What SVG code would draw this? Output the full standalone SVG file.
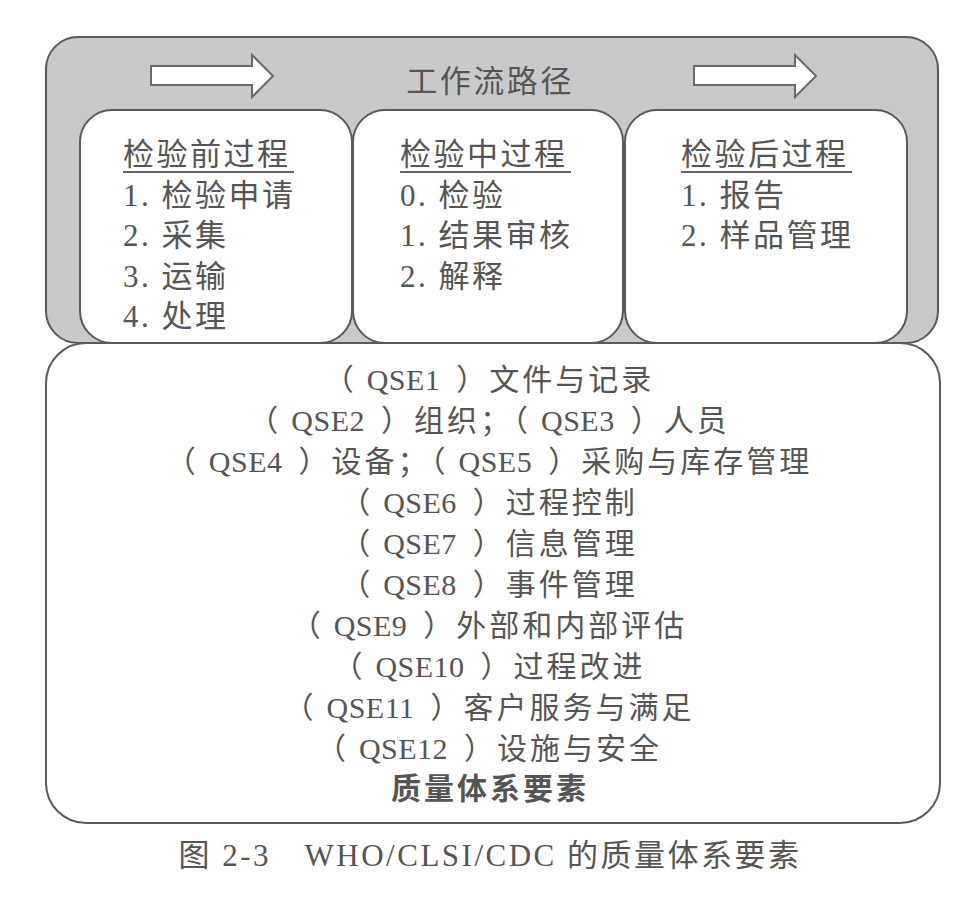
<svg xmlns="http://www.w3.org/2000/svg" width="980" height="901" viewBox="0 0 980 901">
<defs>
<style>
.t{font-family:"Liberation Serif","Noto Sans CJK SC",serif;fill:#555;font-size:31px;letter-spacing:2.5px}
.q{font-family:"Liberation Serif","Noto Sans CJK SC",serif;fill:#555;font-size:30px;letter-spacing:3px;text-anchor:middle}
.l{letter-spacing:0.5px}
.c{text-anchor:middle}
.box{fill:#fff;stroke:#5a5a5a;stroke-width:2}
.arrow{fill:#fff;stroke:#6a6a6a;stroke-width:2}
.ul{stroke:#666;stroke-width:2}
</style>
</defs>
<rect x="0" y="0" width="980" height="901" fill="#fff"/>
<g id="workflow">
<rect x="46" y="37" width="892" height="306" rx="32" fill="#c9c9c9" stroke="#5a5a5a" stroke-width="2"/>
<text class="t c" x="490" y="92">工作流路径</text>
</g>
<g id="connectors">
<path class="arrow" d="M151,66 H252 V55 L273,76 L252,97 V85 H151 Z"/>
<path class="arrow" d="M694,66 H795 V55 L816,76 L795,97 V85 H694 Z"/>
</g>
<g id="pre">
<rect class="box" x="80" y="110" width="272" height="233" rx="32"/>
<text class="t" x="123" y="165">检验前过程</text>
<line class="ul" x1="123" y1="172" x2="294" y2="172"/>
<text class="t" x="123" y="205.5">1. 检验申请</text>
<text class="t" x="123" y="246">2. 采集</text>
<text class="t" x="123" y="286.5">3. 运输</text>
<text class="t" x="123" y="327">4. 处理</text>
</g>
<g id="analytic">
<rect class="box" x="353" y="110" width="270" height="233" rx="32"/>
<text class="t" x="400" y="165">检验中过程</text>
<line class="ul" x1="400" y1="172" x2="571" y2="172"/>
<text class="t" x="400" y="205.5">0. 检验</text>
<text class="t" x="400" y="246">1. 结果审核</text>
<text class="t" x="400" y="286.5">2. 解释</text>
</g>
<g id="post">
<rect class="box" x="625" y="110" width="282" height="233" rx="32"/>
<text class="t" x="681" y="165">检验后过程</text>
<line class="ul" x1="681" y1="172" x2="852" y2="172"/>
<text class="t" x="681" y="205.5">1. 报告</text>
<text class="t" x="681" y="246">2. 样品管理</text>
</g>
<g id="qse">
<rect class="box" x="46" y="343" width="894" height="480" rx="40"/>
<text class="q" x="489" y="390">（<tspan class="l" dx="10">QSE1</tspan><tspan dx="16">）文件与记录</tspan></text>
<text class="q" x="489" y="431">（<tspan class="l" dx="10">QSE2</tspan><tspan dx="16">）组织；（</tspan><tspan class="l" dx="10">QSE3</tspan><tspan dx="16">）人员</tspan></text>
<text class="q" x="489" y="472">（<tspan class="l" dx="10">QSE4</tspan><tspan dx="16">）设备；（</tspan><tspan class="l" dx="10">QSE5</tspan><tspan dx="16">）采购与库存管理</tspan></text>
<text class="q" x="489" y="513">（<tspan class="l" dx="10">QSE6</tspan><tspan dx="16">）过程控制</tspan></text>
<text class="q" x="489" y="554">（<tspan class="l" dx="10">QSE7</tspan><tspan dx="16">）信息管理</tspan></text>
<text class="q" x="489" y="595">（<tspan class="l" dx="10">QSE8</tspan><tspan dx="16">）事件管理</tspan></text>
<text class="q" x="489" y="636">（<tspan class="l" dx="10">QSE9</tspan><tspan dx="16">）外部和内部评估</tspan></text>
<text class="q" x="489" y="677">（<tspan class="l" dx="10">QSE10</tspan><tspan dx="16">）过程改进</tspan></text>
<text class="q" x="489" y="718">（<tspan class="l" dx="10">QSE11</tspan><tspan dx="16">）客户服务与满足</tspan></text>
<text class="q" x="489" y="759">（<tspan class="l" dx="10">QSE12</tspan><tspan dx="16">）设施与安全</tspan></text>
<text class="q" x="490" y="799" font-weight="bold" fill="#444" letter-spacing="3">质量体系要素</text>
</g>
<g id="caption">
<text class="t c" x="490" y="866" font-size="23" letter-spacing="2">图 2-3　WHO/CLSI/CDC 的质量体系要素</text>
</g>
</svg>
